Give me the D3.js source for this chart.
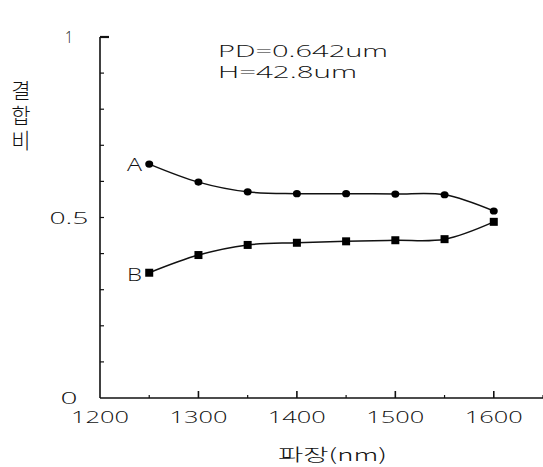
<!DOCTYPE html>
<html>
<head>
<meta charset="utf-8">
<script src="https://cdn.jsdelivr.net/npm/d3@7"></script>
<style>
html, body { margin: 0; padding: 0; background: #fff; }
svg { display: block; }
text { font-family: "Open Sans", Roboto, "Liberation Sans", Arial, sans-serif; font-weight: 300; fill: #111; }
.kr { font-family: "Noto Sans CJK KR", "Noto Sans", sans-serif; font-weight: 300; }
.vert { writing-mode: vertical-rl; text-orientation: upright; }
</style>
</head>
<body>
<svg id="chart" width="543" height="467"></svg>
<script>
// ---- data ----
const wavelengths = [1250, 1300, 1350, 1400, 1450, 1500, 1550, 1600];
const seriesA = [0.648, 0.598, 0.571, 0.566, 0.566, 0.565, 0.563, 0.518];
const seriesB = [0.347, 0.396, 0.424, 0.430, 0.434, 0.437, 0.440, 0.488];
const xTickLabels = ["1200", "1300", "1400", "1500", "1600"];
const xTickValues = [1200, 1300, 1400, 1500, 1600];
const yTickLabels = ["0", "0.5", "1"];
const yTickValues = [0, 0.5, 1];
const seriesNames = ["A", "B"];
const annotation = ["PD=0.642um", "H=42.8um"];
const xTitle = "파장(nm)";
const yTitle = "결합비";

// ---- layout ----
const svg = d3.select("#chart");
const x = d3.scaleLinear().domain([1200, 1650]).range([100, 543]);
const y = d3.scaleLinear().domain([0, 1]).range([398, 37]);

// axes lines
const axisG = svg.append("g").attr("stroke", "#111").attr("stroke-width", 1.6).attr("fill", "none");
axisG.append("line").attr("x1", x(1200)).attr("x2", x(1650)).attr("y1", y(0)).attr("y2", y(0));
axisG.append("line").attr("x1", x(1200)).attr("x2", x(1200)).attr("y1", y(0)).attr("y2", y(1));

// x ticks: major every 100, minor at 50s, pointing inward (up)
const xMajor = d3.range(1300, 1601, 100);
const xMinor = d3.range(1250, 1651, 100);
axisG.selectAll(".xmaj").data(xMajor).join("line")
  .attr("x1", d => x(d)).attr("x2", d => x(d)).attr("y1", y(0)).attr("y2", y(0) - 7);
axisG.selectAll(".xmin").data(xMinor).join("line")
  .attr("x1", d => x(d)).attr("x2", d => x(d)).attr("y1", y(0)).attr("y2", y(0) - 3)
  .attr("stroke-width", 1.2);

// y ticks: every 0.1 pointing right
const yMinor = d3.range(1, 10).map(d => d / 10);
axisG.selectAll(".ymin").data(yMinor).join("line")
  .attr("x1", x(1200)).attr("x2", x(1200) + 4).attr("y1", d => y(d)).attr("y2", d => y(d))
  .attr("stroke-width", 1.2);
axisG.append("line").attr("x1", x(1200)).attr("x2", x(1200) + 9).attr("y1", y(1)).attr("y2", y(1)).attr("stroke-width", 2.2);

// x tick labels
const xLabelWidths = [58, 58, 58, 58, 58];
svg.selectAll(".xl").data(xTickValues).join("text")
  .attr("x", (d, i) => x(d) - xLabelWidths[i] / 2)
  .attr("y", 423)
  .attr("font-size", 16.5)
  .attr("textLength", (d, i) => xLabelWidths[i])
  .attr("lengthAdjust", "spacingAndGlyphs")
  .text((d, i) => xTickLabels[i]);

// y tick labels
const yLabelWidths = [17, 39, 8];
svg.selectAll(".yl").data(yTickValues).join("text")
  .attr("x", (d, i) => 69 - yLabelWidths[i] / 2)
  .attr("y", d => y(d) + 6)
  .attr("font-size", 16.5)
  .attr("textLength", (d, i) => yLabelWidths[i])
  .attr("lengthAdjust", "spacingAndGlyphs")
  .text((d, i) => yTickLabels[i]);

// x title
svg.append("text").attr("class", "kr")
  .attr("x", 278).attr("y", 461)
  .attr("font-size", 17)
  .attr("textLength", 109).attr("lengthAdjust", "spacingAndGlyphs")
  .text(xTitle);

// y title: vertical text with upright characters
svg.append("text").attr("class", "kr vert")
  .attr("x", 21).attr("y", 80)
  .attr("font-size", 21)
  .attr("letter-spacing", 4)
  .text(yTitle);

// annotation
const annWidths = [170, 139];
const annBaselines = [57, 78];
svg.selectAll(".ann").data(annotation).join("text")
  .attr("x", 218).attr("y", (d, i) => annBaselines[i])
  .attr("font-size", 15.5)
  .attr("textLength", (d, i) => annWidths[i])
  .attr("lengthAdjust", "spacingAndGlyphs")
  .text(d => d);

// series
const line = d3.line().x(d => x(d[0])).y(d => y(d[1])).curve(d3.curveCatmullRom.alpha(0.5));
const dataA = wavelengths.map((w, i) => [w, seriesA[i]]);
const dataB = wavelengths.map((w, i) => [w, seriesB[i]]);

svg.append("path").datum(dataA).attr("d", line)
  .attr("fill", "none").attr("stroke", "#111").attr("stroke-width", 1.5);
svg.append("path").datum(dataB).attr("d", line)
  .attr("fill", "none").attr("stroke", "#111").attr("stroke-width", 1.5);

svg.selectAll(".ptA").data(dataA).join("ellipse")
  .attr("cx", d => x(d[0])).attr("cy", d => y(d[1]))
  .attr("rx", 4).attr("ry", 3.6).attr("fill", "#000");
svg.selectAll(".ptB").data(dataB).join("rect")
  .attr("x", d => x(d[0]) - 4).attr("y", d => y(d[1]) - 4)
  .attr("width", 8).attr("height", 8).attr("fill", "#000");

// series labels
const seriesLabelY = [171, 281];
svg.selectAll(".sl").data(seriesNames).join("text")
  .attr("x", 127).attr("y", (d, i) => seriesLabelY[i])
  .attr("font-size", 18)
  .attr("textLength", 15).attr("lengthAdjust", "spacingAndGlyphs")
  .text(d => d);
</script>
</body>
</html>
